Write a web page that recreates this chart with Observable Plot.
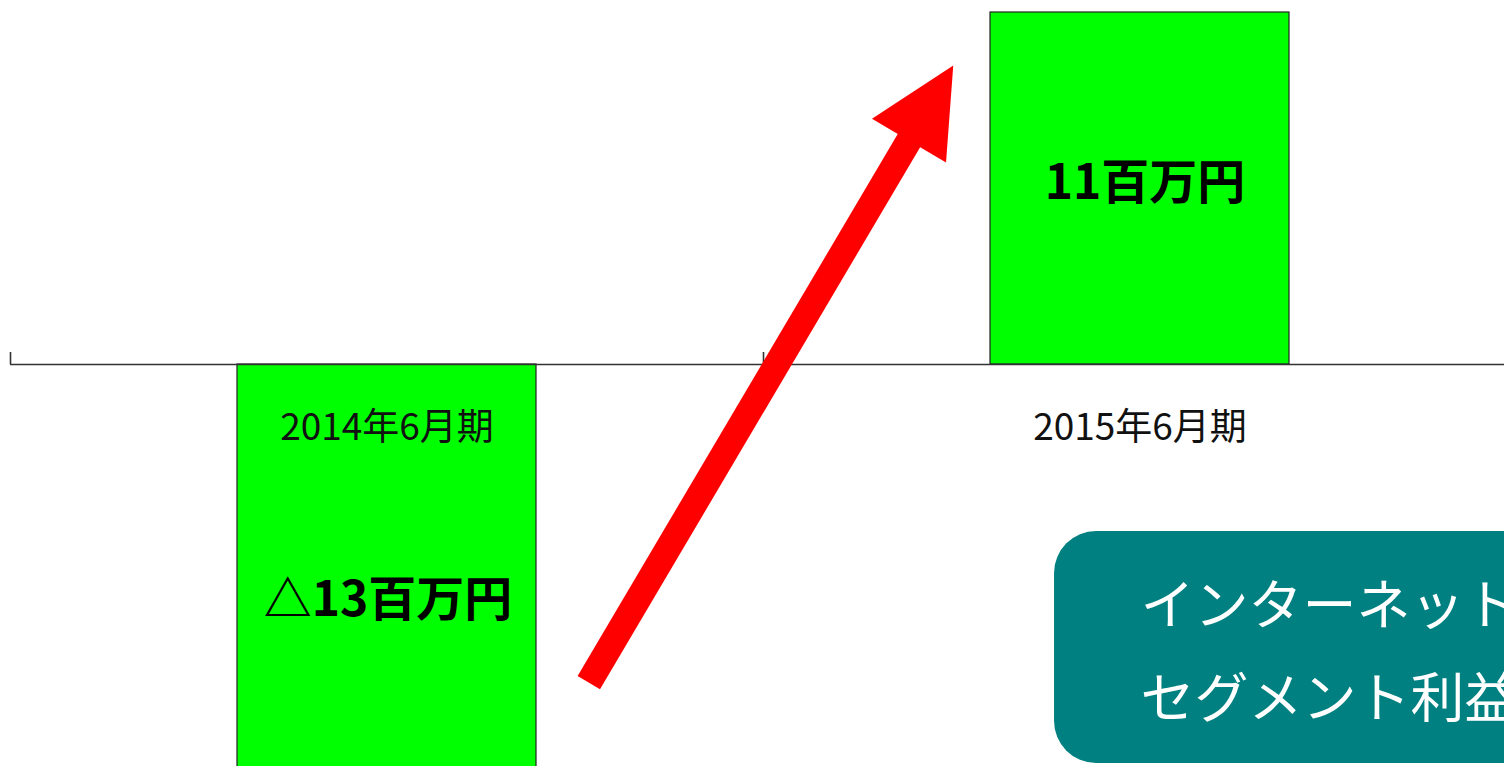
<!DOCTYPE html>
<html>
<head>
<meta charset="utf-8">
<script src="https://cdn.jsdelivr.net/npm/d3@7"></script>
<script src="https://cdn.jsdelivr.net/npm/@observablehq/plot@0.6"></script>
<style>
  html, body { margin: 0; padding: 0; background: #fff; overflow: hidden; }
  #chart svg { display: block; }
</style>
</head>
<body>
<div id="chart"></div>
<script>
// ---- data ----
const categories = ["2014年6月期", "2015年6月期"];
const values = [-13, 11];               // 百万円
const boxLines = ["インターネット事業", "セグメント利益"];
// annotation anchors (data units: x = category index space, y = 百万円)
const arrowFrom = {x: 0.768, y: -9.94};
const arrowTo = {x: 1.252, y: 9.34};
const box = {x1: 1.3865, x2: 2.2, y1: -5.22, y2: -12.47};

// ---- layout ----
const W = 1504, H = 766;
const xDomain = [0, 2], xRange = [10, 1516];
const yDomain = [-12.5625, 11.375];
const font = "'Noto Sans CJK JP', 'Noto Sans', sans-serif";

const bars = categories.map((c, i) => ({i, c, v: values[i],
  label: (values[i] < 0 ? "△" : "") + Math.abs(values[i]) + "百万円"}));

// arrow geometry in pixel space to derive head rotation
const sx = d3.scaleLinear(xDomain, xRange);
const sy = d3.scaleLinear(yDomain, [H, 0]);
const p0 = [sx(arrowFrom.x), sy(arrowFrom.y)];
const p1 = [sx(arrowTo.x), sy(arrowTo.y)];
const len = Math.hypot(p1[0] - p0[0], p1[1] - p0[1]);
const angle = Math.atan2(p1[0] - p0[0], -(p1[1] - p0[1])) * 180 / Math.PI;
const headLen = 87, headHalf = 43;
const t = 1 - (headLen - 10) / len;
const shaftEnd = {x: arrowFrom.x + (arrowTo.x - arrowFrom.x) * t,
                  y: arrowFrom.y + (arrowTo.y - arrowFrom.y) * t};
const headSymbol = {draw(ctx) {
  ctx.moveTo(0, 0); ctx.lineTo(-headHalf, headLen); ctx.lineTo(headHalf, headLen); ctx.closePath();
}};

const chart = Plot.plot({
  width: W, height: H,
  marginTop: 0, marginRight: 0, marginBottom: 0, marginLeft: 0,
  x: {domain: xDomain, range: xRange, axis: null},
  y: {domain: yDomain, axis: null},
  style: {background: "#fff", fontFamily: font},
  marks: [
    Plot.rectY(bars, {x1: d => d.i, x2: d => d.i + 1, y1: 0, y2: "v",
      insetLeft: 227, insetRight: 227, fill: "#00ff00", stroke: "#222", strokeWidth: 1.2}),
    Plot.ruleY([0], {x1: 0, x2: 2, stroke: "#333", strokeWidth: 1.6}),
    Plot.ruleX([0, 1, 2], {y1: 0, y2: 0.375, stroke: "#333", strokeWidth: 1.6}),
    Plot.text(bars, {x: d => d.i + 0.5, y: 0, dy: 64, text: "c",
      fontSize: 37, fill: "#111", fontFamily: font}),
    Plot.text(bars.filter(d => d.v > 0), {x: d => d.i + 0.5, y: d => d.v / 2, dx: 5, dy: -5, text: "label",
      fontSize: 48, fontWeight: "bold", fill: "#000", fontFamily: font}),
    Plot.text(bars.filter(d => d.v < 0), {x: d => d.i + 0.5, y: d => d.v / 2, dx: 1, dy: 28, text: "label",
      fontSize: 48, fontWeight: "bold", fill: "#000", fontFamily: font}),
    Plot.link([0], {x1: () => arrowFrom.x, y1: () => arrowFrom.y, x2: () => shaftEnd.x, y2: () => shaftEnd.y,
      stroke: "#ff0000", strokeWidth: 26}),
    Plot.dot([arrowTo], {x: "x", y: "y", symbol: headSymbol, r: 10, rotate: angle,
      fill: "#ff0000", stroke: "none"}),
    Plot.rect([box], {x1: "x1", x2: "x2", y1: "y1", y2: "y2", fill: "#008080", rx: 42}),
    Plot.text([boxLines.join("\n")], {x: box.x1, y: (box.y1 + box.y2) / 2, dx: 86, dy: -6, text: d => d,
      textAnchor: "start", fontSize: 54, lineHeight: 1.72, fill: "#fff", fontWeight: "normal", fontFamily: font})
  ]
});
document.getElementById("chart").appendChild(chart);
</script>
</body>
</html>
